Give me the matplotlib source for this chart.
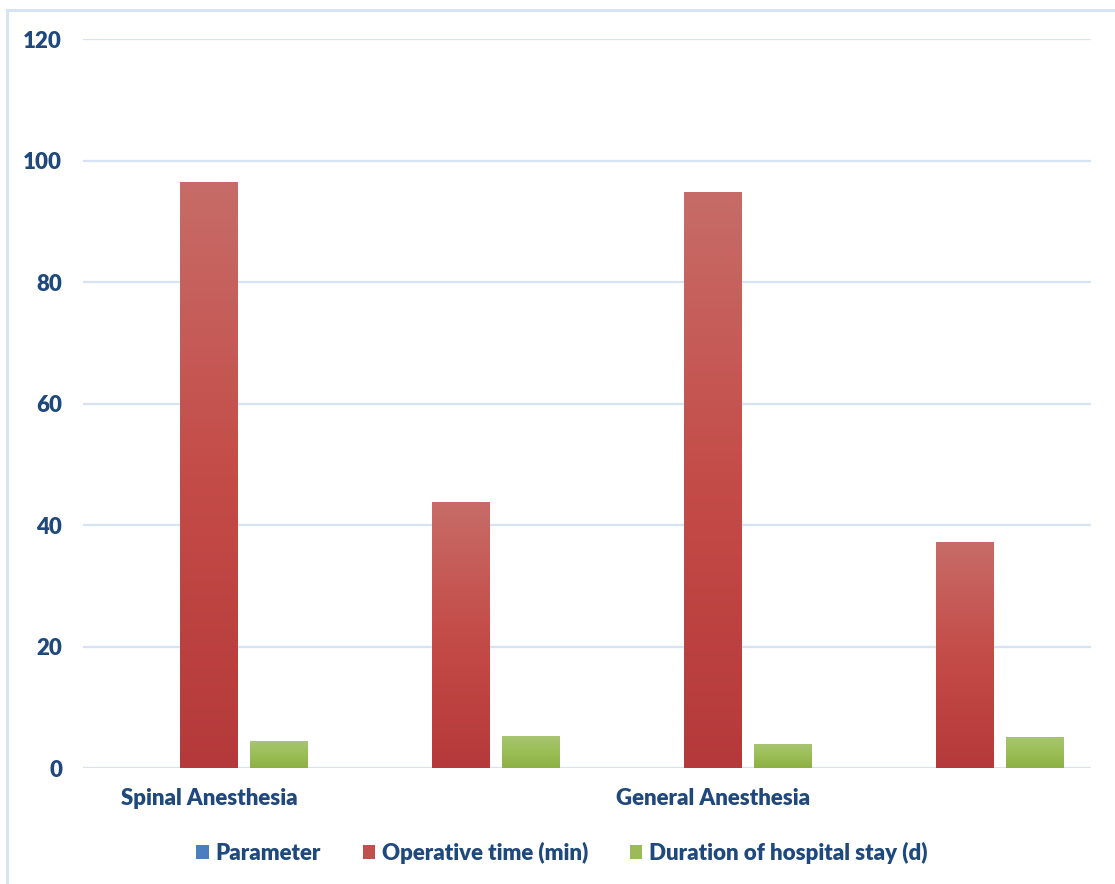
import numpy as np
import matplotlib.pyplot as plt
from matplotlib.colors import LinearSegmentedColormap
from matplotlib.patches import Patch
from matplotlib.lines import Line2D

plt.rcParams['font.family'] = ['Lato', 'DejaVu Sans']

categories = ['Spinal Anesthesia', '', 'General Anesthesia', '']
series = ['Parameter', 'Operative time (min)', 'Duration of hospital stay (d)']
parameter = [0, 0, 0, 0]
operative_time = [96.5, 43.8, 94.8, 37.2]
hospital_stay = [4.5, 5.3, 4.0, 5.15]

text_color = '#1f497d'
grid_color = '#d6e3f3'
fw = 'heavy'
fs = 16
# bottom -> middle -> top colours of each series' gradient fill
grads = [('#3d6fb0', '#4f81bd', '#6f9bd3'),
         ('#b5393a', '#c44c48', '#c76c68'),
         ('#8cb043', '#9bbf56', '#a8c573')]
solid = ['#4a7ebf', '#c0504d', '#9bbb59']

W, H = 1115, 884
fig = plt.figure(figsize=(W / 100, H / 100), dpi=100)
ax = fig.add_axes([83 / W, (H - 768.3) / H, (1091 - 83) / W, (768.3 - 39.2) / H])

x = np.arange(len(categories))
width = 0.23
offset = 0.278
values = [parameter, operative_time, hospital_stay]

grad = np.linspace(1, 0, 256).reshape(-1, 1)
for i, vals in enumerate(values):
    bars = ax.bar(x + (i - 1) * offset, vals, width, facecolor='none',
                  edgecolor='none', zorder=3)
    cmap = LinearSegmentedColormap.from_list('g%d' % i, list(grads[i]))
    for b in bars:
        h = b.get_height()
        if h <= 0:
            continue
        x0 = b.get_x()
        im = ax.imshow(grad, cmap=cmap, aspect='auto', zorder=3,
                       extent=(x0, x0 + b.get_width(), 0, h), vmin=0, vmax=1)
        im.set_clip_path(b)

ax.set_xlim(-0.5, len(categories) - 0.5)
ax.set_ylim(0, 120)
ax.set_yticks(np.arange(0, 121, 20))
ax.yaxis.grid(True, color=grid_color, linewidth=1.6)
ax.set_axisbelow(True)
for s in ax.spines.values():
    s.set_visible(False)
ax.tick_params(axis='both', length=0, colors=text_color, labelsize=fs)
ax.tick_params(axis='y', pad=15)
ax.tick_params(axis='x', pad=14)
ax.set_xticks(x)
ax.set_xticklabels(categories)
for lbl in ax.get_yticklabels() + ax.get_xticklabels():
    lbl.set_fontweight(fw)
    lbl.set_color(text_color)

handles = [Patch(facecolor=solid[i], edgecolor='none') for i in range(3)]
leg = fig.legend(handles, series, loc='center', ncol=3, frameon=False,
                 bbox_to_anchor=(562 / W, (H - 853) / H),
                 handlelength=0.55, handleheight=0.6, handletextpad=0.3,
                 columnspacing=1.9, prop={'size': fs, 'weight': fw})
for t in leg.get_texts():
    t.set_color(text_color)

# chart frame: top and left edges
fig.add_artist(Line2D([7 / W, 1], [(H - 9.5) / H] * 2, color=grid_color, lw=2.2))
fig.add_artist(Line2D([7 / W] * 2, [0, (H - 9.5) / H], color=grid_color, lw=2.2))

fig.savefig('out.png', dpi=100)
